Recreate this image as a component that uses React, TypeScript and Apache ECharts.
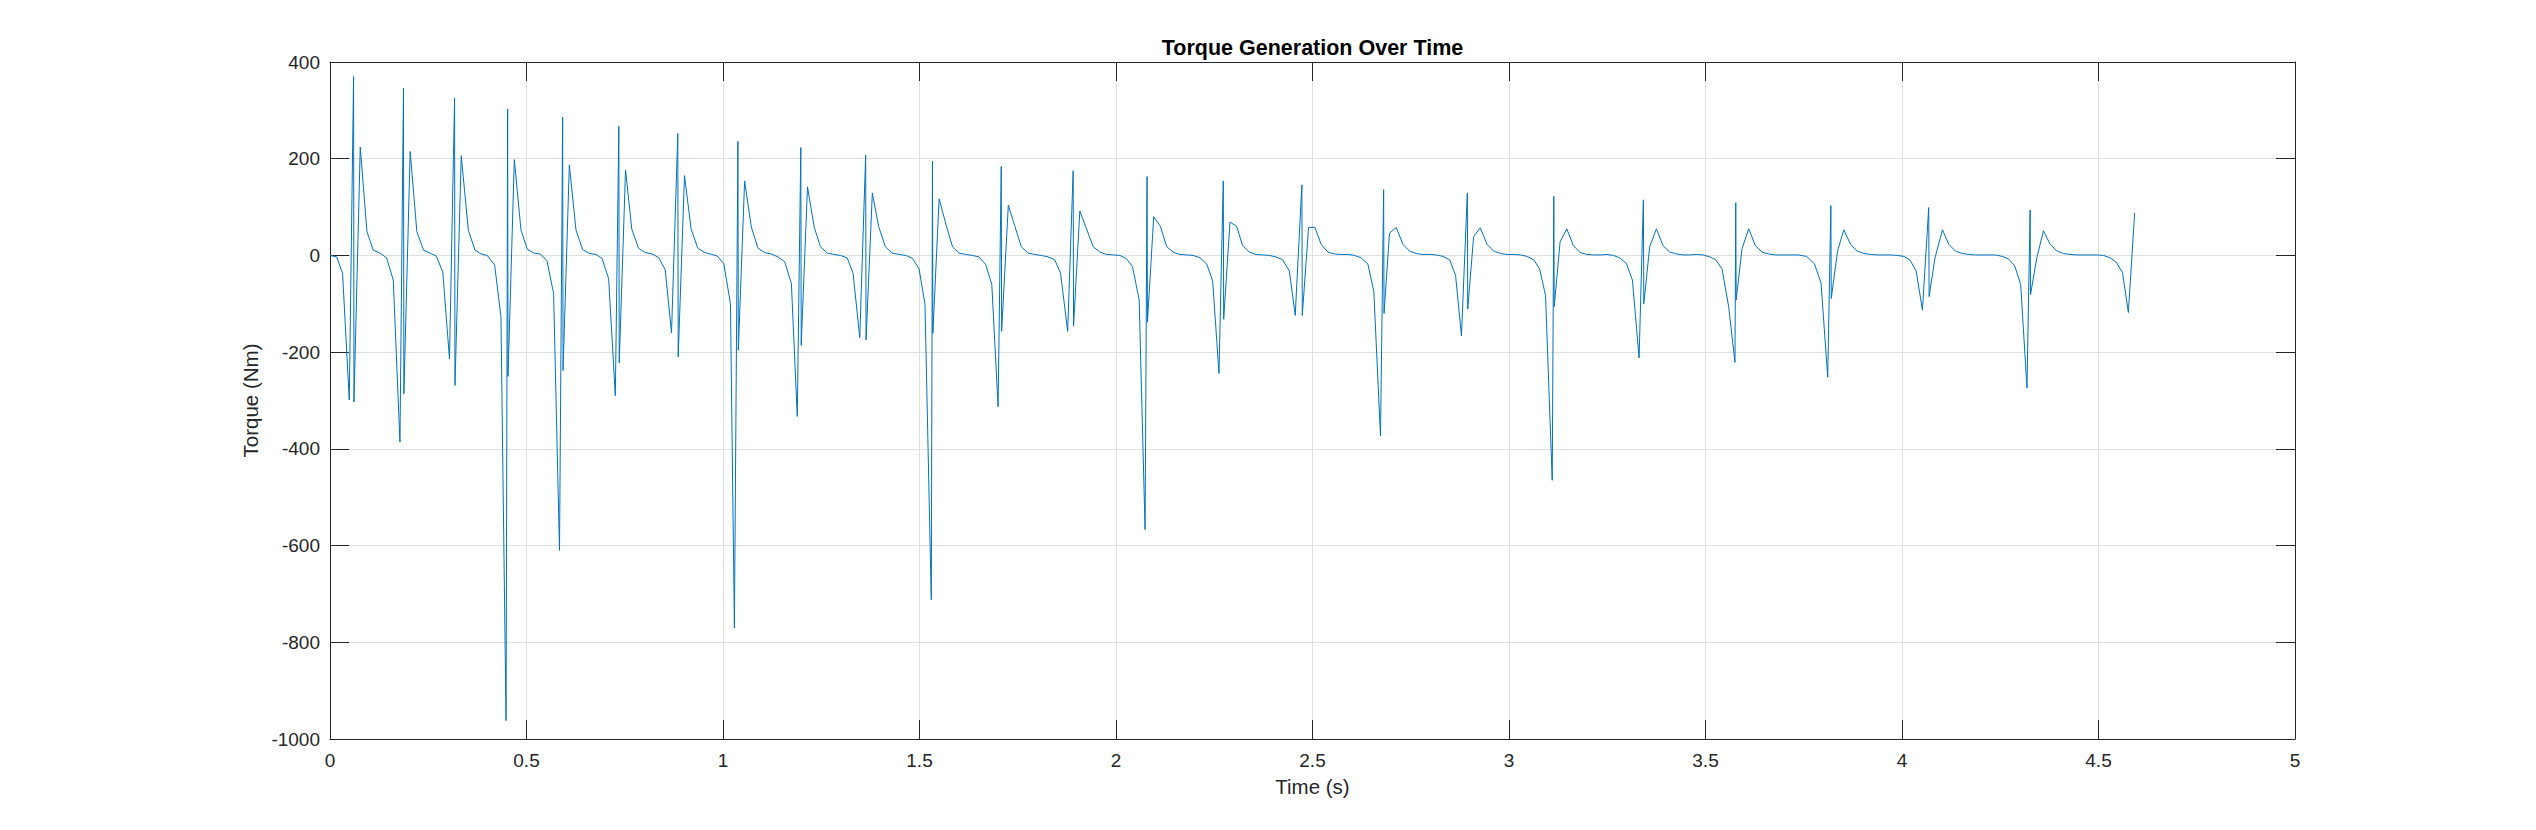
import * as echarts from "echarts";
import { useEffect, useRef } from "react";

// time stamps (s) and torque (Nm), one line per engine cycle
const timeS = [
  0.000, 0.017, 0.032, 0.049, 0.060, 0.061, 0.077, 0.094, 0.110, 0.127, 0.144, 0.161,
  0.178, 0.187, 0.188, 0.204, 0.221, 0.238, 0.254, 0.270, 0.287,
  0.304, 0.317, 0.318, 0.334, 0.352, 0.369, 0.385, 0.400, 0.419, 0.435,
  0.448, 0.452, 0.453, 0.469, 0.486, 0.502, 0.518, 0.535, 0.552, 0.569,
  0.584, 0.592, 0.593, 0.609, 0.626, 0.643, 0.660, 0.677, 0.692, 0.709,
  0.726, 0.735, 0.736, 0.752, 0.768, 0.785, 0.802, 0.819, 0.836, 0.853,
  0.869, 0.885, 0.886, 0.902, 0.919, 0.936, 0.953, 0.968, 0.985, 1.002, 1.019,
  1.029, 1.038, 1.039, 1.055, 1.072, 1.089, 1.106, 1.123, 1.140, 1.157, 1.174,
  1.189, 1.198, 1.199, 1.215, 1.232, 1.248, 1.265, 1.282, 1.299, 1.316, 1.331,
  1.348, 1.363, 1.364, 1.380, 1.396, 1.413, 1.430, 1.448, 1.465, 1.482, 1.499, 1.514,
  1.530, 1.533, 1.534, 1.550, 1.567, 1.584, 1.600, 1.617, 1.635, 1.651, 1.668, 1.684,
  1.700, 1.708, 1.709, 1.726, 1.742, 1.759, 1.776, 1.793, 1.810, 1.827, 1.844, 1.859,
  1.877, 1.891, 1.892, 1.908, 1.925, 1.942, 1.959, 1.976, 1.993, 2.010, 2.027, 2.042, 2.059,
  2.074, 2.079, 2.080, 2.096, 2.113, 2.129, 2.147, 2.163, 2.180, 2.197, 2.214, 2.231, 2.246,
  2.262, 2.273, 2.274, 2.290, 2.307, 2.322, 2.339, 2.356, 2.373, 2.390, 2.407, 2.424, 2.441,
  2.456, 2.473, 2.474, 2.490, 2.506, 2.522, 2.539, 2.556, 2.573, 2.590, 2.607, 2.624, 2.641, 2.656,
  2.673, 2.681, 2.682, 2.696, 2.713, 2.730, 2.747, 2.764, 2.781, 2.798, 2.815, 2.832, 2.849, 2.864,
  2.879, 2.894, 2.895, 2.910, 2.927, 2.944, 2.961, 2.978, 2.995, 3.012, 3.029, 3.046, 3.063, 3.078, 3.093,
  3.110, 3.114, 3.115, 3.130, 3.147, 3.164, 3.181, 3.198, 3.215, 3.232, 3.249, 3.266, 3.282, 3.299, 3.314,
  3.331, 3.342, 3.343, 3.358, 3.375, 3.392, 3.409, 3.426, 3.443, 3.460, 3.477, 3.494, 3.511, 3.526, 3.542, 3.559,
  3.575, 3.577, 3.578, 3.593, 3.610, 3.627, 3.644, 3.661, 3.678, 3.695, 3.712, 3.736, 3.757, 3.777, 3.794,
  3.811, 3.819, 3.820, 3.836, 3.852, 3.869, 3.886, 3.903, 3.920, 3.937, 3.954, 3.971, 3.988, 4.005, 4.020, 4.036,
  4.052, 4.068, 4.069, 4.084, 4.103, 4.119, 4.136, 4.153, 4.170, 4.187, 4.204, 4.221, 4.238, 4.255, 4.271, 4.287, 4.302,
  4.318, 4.326, 4.327, 4.343, 4.360, 4.377, 4.394, 4.411, 4.428, 4.445, 4.462, 4.479, 4.496, 4.513, 4.530, 4.545, 4.561, 4.576, 4.592,
];

const torqueNm = [
  0, -3, -37, -299, 370, -303, 224, 49, 11, 5, -5, -51,
  -386, 346, -286, 215, 49, 11, 5, -1, -34,
  -214, 325, -269, 206, 52, 11, 3, 0, -20, -127,
  -962, 303, -250, 198, 52, 13, 5, 3, -11, -79,
  -610, 286, -238, 187, 52, 12, 4, 2, -6, -48,
  -290, 267, -222, 177, 54, 15, 6, 3, -4, -30,
  -160, 252, -210, 165, 54, 15, 6, 3, -1, -17, -100,
  -770, 236, -196, 154, 59, 15, 6, 3, -3, -13, -58,
  -333, 223, -186, 142, 59, 18, 5, 2, 0, -5, -37,
  -170, 207, -175, 129, 60, 18, 5, 2, 0, -6, -28, -101,
  -712, 195, -161, 117, 65, 18, 5, 2, 0, -3, -18, -60,
  -313, 184, -157, 104, 62, 18, 5, 2, 0, -3, -9, -37,
  -157, 175, -146, 92, 55, 18, 7, 2, 1, 0, -7, -23, -92,
  -567, 163, -138, 80, 60, 18, 6, 2, 1, 0, -5, -18, -53,
  -244, 154, -132, 69, 60, 21, 7, 2, 1, 0, -3, -9, -32,
  -124, 146, -124, 58, 58, 23, 7, 3, 2, 2, 0, -5, -18, -74,
  -373, 136, -120, 46, 58, 23, 9, 4, 2, 2, 1, -2, -9, -41,
  -166, 129, -111, 39, 57, 23, 9, 4, 2, 2, 1, -2, -9, -28, -83,
  -465, 122, -106, 28, 55, 20, 6, 2, 1, 1, 2, 0, -5, -17, -51,
  -212, 115, -100, 18, 55, 20, 7, 3, 1, 1, 2, 1, -3, -9, -28, -106,
  -221, 109, -92, 14, 55, 20, 7, 3, 1, 1, 1, 1, -2, -17, -57,
  -252, 103, -89, 9, 53, 23, 9, 4, 2, 1, 1, 1, 0, -2, -9, -32,
  -113, 99, -85, -5, 53, 23, 9, 4, 2, 1, 1, 1, 1, -2, -7, -22, -60,
  -274, 94, -81, -5, 51, 23, 9, 4, 2, 1, 1, 1, 1, 0, -5, -14, -35, -118, 88,
];

// axis ranges
const xRange = [0, 5];
const xStep = 0.5;
const yRange = [-1000, 400];
const yStep = 200;

const FONT = "'Liberation Sans', Arial, Helvetica, sans-serif";
const INK = "#262626";
const GRID = "#dfdfdf";

const App = () => {
  const chartRef = useRef<HTMLDivElement | null>(null);

  useEffect(() => {
    if (!chartRef.current) return;
    const chart = echarts.init(chartRef.current, undefined, { renderer: "svg" });

    const box = { left: 330, right: 241, top: 62, bottom: 91 };
    const plotCenterX = box.left + (2536 - box.left - box.right) / 2;

    const tick = { show: true, inside: true, length: 19, lineStyle: { color: INK, width: 1 } };
    const line = { show: true, onZero: false, lineStyle: { color: INK, width: 1 } };
    // plain numbers, no thousands separator
    const plain = (v: number) => String(v);

    chart.setOption({
      animation: false,
      textStyle: { fontFamily: FONT },
      grid: { ...box, containLabel: false },
      graphic: [
        {
          type: "text",
          x: plotCenterX,
          y: 48,
          style: {
            text: "Torque Generation Over Time",
            fontFamily: FONT,
            fontSize: 21.5,
            fontWeight: "bold",
            fill: "#000",
            align: "center",
            verticalAlign: "middle",
          },
        },
      ],
      xAxis: [
        {
          type: "value",
          position: "bottom",
          min: xRange[0],
          max: xRange[1],
          interval: xStep,
          axisLine: line,
          axisTick: tick,
          axisLabel: { color: INK, fontSize: 19, margin: 12, formatter: plain },
          splitLine: { show: true, lineStyle: { color: GRID, width: 1 } },
          name: "Time (s)",
          nameLocation: "middle",
          nameGap: 37,
          nameTextStyle: { color: INK, fontSize: 20.5 },
        },
        {
          type: "value",
          position: "top",
          min: xRange[0],
          max: xRange[1],
          interval: xStep,
          axisLine: line,
          axisTick: tick,
          axisLabel: { show: false },
          splitLine: { show: false },
        },
      ],
      yAxis: [
        {
          type: "value",
          position: "left",
          min: yRange[0],
          max: yRange[1],
          interval: yStep,
          axisLine: line,
          axisTick: tick,
          axisLabel: { color: INK, fontSize: 19, margin: 10, formatter: plain },
          splitLine: { show: true, lineStyle: { color: GRID, width: 1 } },
          name: "Torque (Nm)",
          nameLocation: "middle",
          nameRotate: 90,
          nameGap: 64,
          nameTextStyle: { color: INK, fontSize: 20.5 },
        },
        {
          type: "value",
          position: "right",
          min: yRange[0],
          max: yRange[1],
          interval: yStep,
          axisLine: line,
          axisTick: tick,
          axisLabel: { show: false },
          splitLine: { show: false },
        },
      ],
      series: [
        {
          type: "line",
          xAxisIndex: 0,
          yAxisIndex: 0,
          data: timeS.map((t, i) => [t, torqueNm[i]]),
          showSymbol: false,
          symbol: "none",
          lineStyle: { color: "#0072BD", width: 1 },
          itemStyle: { color: "#0072BD" },
        },
      ],
    });

    return () => {
      chart.dispose();
    };
  }, []);

  return (
    <div
      ref={chartRef}
      style={{ position: "fixed", left: 0, top: 0, width: 2536, height: 830, background: "#fff" }}
    />
  );
};

export default App;
